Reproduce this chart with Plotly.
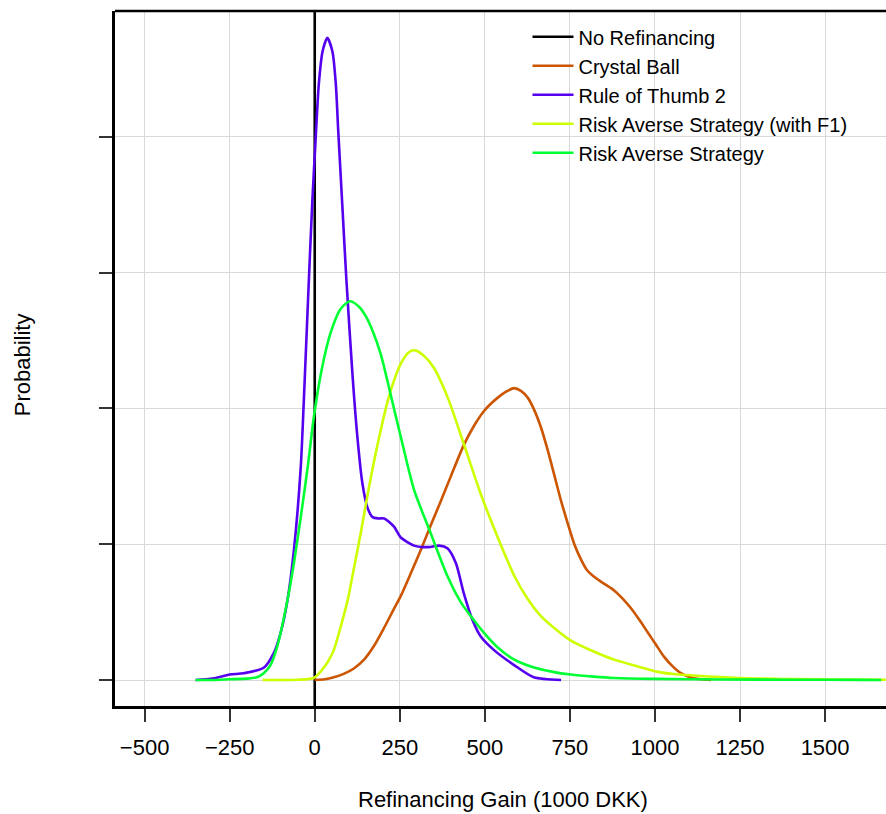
import plotly.graph_objects as go

# ---- data (x in 1000 DKK, y in density units x 1e-3) ----
x_ticks = [-500, -250, 0, 250, 500, 750, 1000, 1250, 1500]
x_tick_labels = ["\u2212500", "\u2212250", "0", "250", "500", "750", "1000", "1250", "1500"]
y_ticks = [0, 1, 2, 3, 4]

no_refi_x = [0, 0]
no_refi_y = [-0.2, 5.0]

crystal_x = [0, 30, 56, 85, 115, 145, 174, 203, 232, 253, 283, 312, 341, 371, 400, 438, 470, 497,
             520, 538, 560, 586, 606, 626, 645, 665, 684, 703, 724, 744, 763, 782, 800, 821, 850,
             880, 905, 929, 955, 979, 1003, 1027, 1052, 1076, 1110, 1165]
crystal_y = [0, 0.005, 0.02, 0.045, 0.085, 0.15, 0.25, 0.38, 0.52, 0.62, 0.79, 0.96, 1.14, 1.32,
             1.50, 1.73, 1.88, 1.98, 2.04, 2.08, 2.12, 2.15, 2.13, 2.08, 1.99, 1.86, 1.70, 1.52,
             1.32, 1.15, 1.00, 0.89, 0.81, 0.76, 0.71, 0.66, 0.60, 0.53, 0.44, 0.35, 0.26, 0.17,
             0.10, 0.05, 0.015, 0]

thumb_x = [-350, -300, -250, -209, -150, -120, -100, -80, -61, -41, -32, -18, -7, 3, 12, 23, 37,
           52, 62, 69, 81, 93, 111, 125, 140, 155, 170, 187, 204, 233, 253, 292, 312, 340, 366,
           390, 415, 438, 464, 488, 527, 586, 644, 724]
thumb_y = [0, 0.01, 0.04, 0.05, 0.09, 0.20, 0.35, 0.59, 0.96, 1.57, 2.06, 2.90, 3.53, 4.00, 4.39,
           4.63, 4.73, 4.63, 4.39, 4.05, 3.50, 2.95, 2.25, 1.80, 1.45, 1.27, 1.20, 1.19, 1.19,
           1.13, 1.05, 0.99, 0.98, 0.98, 0.99, 0.97, 0.86, 0.64, 0.44, 0.32, 0.22, 0.11, 0.02, 0]

f1_x = [-153, -100, -50, -3, 20, 40, 56, 75, 97, 115, 135, 155, 175, 194, 214, 235, 253, 275, 293,
        320, 350, 391, 438, 488, 538, 586, 625, 665, 710, 753, 820, 880, 950, 1009, 1070, 1135,
        1250, 1400, 1550, 1690]
f1_y = [0, 0, 0.002, 0.015, 0.07, 0.14, 0.22, 0.38, 0.59, 0.82, 1.08, 1.36, 1.62, 1.84, 2.05, 2.22,
        2.33, 2.41, 2.43, 2.39, 2.30, 2.08, 1.74, 1.37, 1.05, 0.77, 0.60, 0.47, 0.37, 0.29, 0.21,
        0.15, 0.10, 0.06, 0.04, 0.03, 0.015, 0.007, 0.003, 0.002]

risk_x = [-350, -300, -250, -200, -170, -150, -130, -110, -80, -60, -41, -20, -3, 20, 47, 75, 103,
          130, 150, 172, 194, 215, 230, 253, 292, 341, 391, 430, 468, 500, 538, 580, 635, 700, 753,
          820, 880, 1000, 1200, 1400, 1600, 1665]
risk_y = [0, 0, 0.005, 0.01, 0.02, 0.05, 0.11, 0.25, 0.59, 0.88, 1.20, 1.58, 1.93, 2.28, 2.56,
          2.73, 2.79, 2.75, 2.68, 2.56, 2.40, 2.19, 2.03, 1.79, 1.40, 1.08, 0.76, 0.57, 0.44, 0.34,
          0.24, 0.16, 0.10, 0.06, 0.04, 0.025, 0.015, 0.008, 0.004, 0.002, 0.001, 0]

series = [
    ("No Refinancing", no_refi_x, no_refi_y, "#000000", "linear"),
    ("Crystal Ball", crystal_x, crystal_y, "#CC5500", "spline"),
    ("Rule of Thumb 2", thumb_x, thumb_y, "#5500EE", "spline"),
    ("Risk Averse Strategy (with F1)", f1_x, f1_y, "#CCFF00", "spline"),
    ("Risk Averse Strategy", risk_x, risk_y, "#00FF33", "spline"),
]

FONT = "Liberation Sans, Arial, sans-serif"
FS = 22
LEG_FS = 20

fig = go.Figure()
for name, xs, ys, col, shape in series:
    fig.add_trace(go.Scatter(x=xs, y=ys, mode="lines", name=name,
                             line=dict(color=col, width=2.6, shape=shape, smoothing=0.7)))

fig.update_layout(
    width=886, height=814,
    margin=dict(l=115, r=0, t=11, b=108),
    paper_bgcolor="white", plot_bgcolor="white",
    font=dict(family=FONT, size=FS, color="black"),
    showlegend=True,
    legend=dict(x=0.535, y=0.991, xanchor="left", yanchor="top",
                bgcolor="rgba(0,0,0,0)", borderwidth=0, itemwidth=41,
                font=dict(family=FONT, size=LEG_FS), tracegroupgap=0),
    xaxis=dict(range=[-587, 1679], tickmode="array", tickvals=x_ticks, ticktext=x_tick_labels,
               showgrid=True, gridcolor="#D9D9D9", gridwidth=1, zeroline=False,
               showline=True, linecolor="black", linewidth=2.5,
               ticks="outside", ticklen=13, tickwidth=1.5, tickcolor="#333333",
               ticklabelstandoff=7, tickfont=dict(size=FS)),
    yaxis=dict(range=[-0.1915, 4.928], tickmode="array", tickvals=y_ticks, showticklabels=False,
               showgrid=True, gridcolor="#D9D9D9", gridwidth=1, zeroline=False,
               showline=True, linecolor="black", linewidth=2.5,
               ticks="outside", ticklen=13, tickwidth=1.5, tickcolor="#333333"),
    shapes=[dict(type="line", xref="paper", yref="paper", x0=0, x1=1, y0=1, y1=1,
                 line=dict(color="black", width=2.5))],
    annotations=[
        dict(text="Refinancing Gain (1000 DKK)", xref="paper", yref="paper",
             x=0.503, y=-0.135, xanchor="center", yanchor="middle", showarrow=False,
             font=dict(size=FS)),
        dict(text="Probability", xref="paper", yref="paper", textangle=-90,
             x=-0.12, y=0.491, xanchor="center", yanchor="middle", showarrow=False,
             font=dict(size=FS)),
    ],
)

fig.write_html("out.html", config={"displayModeBar": False},
               post_script="document.body.style.margin='0';")
